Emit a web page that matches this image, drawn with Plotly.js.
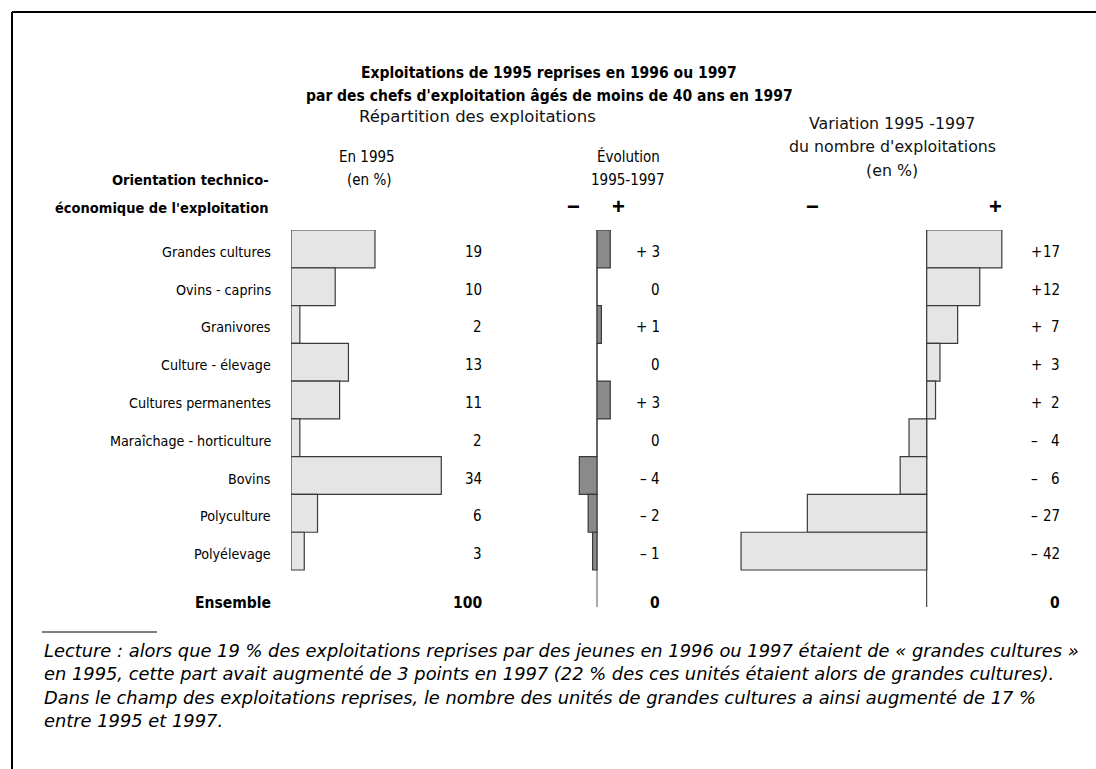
<!DOCTYPE html>
<html>
<head>
<meta charset="utf-8">
<script src="https://cdn.plot.ly/plotly-3.0.1.min.js"></script>
<style>
html,body{margin:0;padding:0;background:#fff;}
#chart{width:1096px;height:769px;}
</style>
</head>
<body>
<div id="chart"></div>
<script>
// ---- data ----
const categories = ["Grandes cultures", "Ovins - caprins", "Granivores", "Culture - élevage",
  "Cultures permanentes", "Maraîchage - horticulture", "Bovins", "Polyculture", "Polyélevage"];
const share1995 = [19, 10, 2, 13, 11, 2, 34, 6, 3];
const evolution9597 = [3, 0, 1, 0, 3, 0, -4, -2, -1];
const variation9597 = [17, 12, 7, 3, 2, -4, -6, -27, -42];
const totalLabel = "Ensemble";
const totalShare = 100;
const totalEvolution = 0;
const totalVariation = 0;

// ---- layout helpers (pixel -> paper) ----
const W = 1096, H = 769;
const px = x => x / W;
const py = y => 1 - y / H;
const NARROW = "DejaVu Sans Condensed, Liberation Sans Narrow, Arial Narrow, sans-serif";
const REG = "DejaVu Sans, Verdana, sans-serif";
const SANS = "Liberation Sans, Arial, sans-serif";
const idx = categories.map((_, i) => i);
const totalRow = 9.29;

const scale = 4.42; // px per unit
const rowTop = 230, pitch = 37.78;
const yMax = 10;
const yBottomPx = rowTop + (yMax + 0.5) * pitch;

function signText(v) {
  if (v > 0) return "+ " + v;
  if (v < 0) return "\u2013 " + (-v);
  return "0";
}

const barLine = {color: "#3a3a3a", width: 1.2};
const traces = [
  {type: "bar", orientation: "h", x: share1995, y: idx, width: 1, xaxis: "x", yaxis: "y",
   marker: {color: "#e5e5e5", line: barLine}, hoverinfo: "skip"},
  {type: "bar", orientation: "h", x: evolution9597, y: idx, width: 1, xaxis: "x2", yaxis: "y",
   marker: {color: "#8a8a8a", line: barLine}, hoverinfo: "skip"},
  {type: "bar", orientation: "h", x: variation9597, y: idx, width: 1, xaxis: "x3", yaxis: "y",
   marker: {color: "#e5e5e5", line: barLine}, hoverinfo: "skip"}
];

const x1Left = 291, x1Range = [0, 40];
const x2Zero = 597, x2Range = [-6, 6];
const x3Zero = 926.7, x3Range = [-44, 20];

const annotations = [];
function txt(text, x, y, opts) {
  opts = opts || {};
  annotations.push(Object.assign({
    text: text, x: px(x), y: py(y), xref: "paper", yref: "paper",
    showarrow: false, xanchor: "center", yanchor: "middle",
    font: {family: NARROW, size: 14.5, color: "#000"}
  }, opts));
}
const ROWSHIFT = -3;
function rowTxt(text, x, row, opts) {
  opts = opts || {};
  annotations.push(Object.assign({
    text: text, x: px(x), y: row, xref: "paper", yref: "y", yshift: ROWSHIFT,
    showarrow: false, xanchor: "right", yanchor: "middle",
    font: {family: NARROW, size: 15, color: "#000"}
  }, opts));
}

// titles
txt("<b>Exploitations de 1995 reprises en 1996 ou 1997</b>", 549, 73, {font: {family: NARROW, size: 15.5, color: "#000"}});
txt("<b>par des chefs d'exploitation âgés de moins de 40 ans en 1997</b>", 549, 96, {font: {family: NARROW, size: 15.5, color: "#000"}});
txt("Répartition des exploitations", 477, 117, {font: {family: REG, size: 16.5, color: "#111"}});
txt("En 1995", 367, 157, {font: {family: NARROW, size: 15, color: "#000"}});
txt("(en %)", 369, 180, {font: {family: NARROW, size: 15, color: "#000"}});
txt("Évolution", 628, 157, {font: {family: NARROW, size: 15, color: "#000"}});
txt("1995-1997", 628, 180, {font: {family: NARROW, size: 15, color: "#000"}});
txt("Variation 1995 -1997", 892, 123, {font: {family: REG, size: 15.8, color: "#111"}});
txt("du nombre d'exploitations", 892, 146, {font: {family: REG, size: 15.8, color: "#111"}});
txt("(en %)", 892, 170, {font: {family: REG, size: 15.8, color: "#111"}});
txt("<b>\u2212</b>", 573, 207, {font: {family: SANS, size: 22, color: "#000"}});
txt("<b>+</b>", 618, 207, {font: {family: SANS, size: 22, color: "#000"}});
txt("<b>\u2212</b>", 812, 207, {font: {family: SANS, size: 22, color: "#000"}});
txt("<b>+</b>", 995, 207, {font: {family: SANS, size: 22, color: "#000"}});
txt("<b>Orientation technico-</b>", 271, 180, {xanchor: "right", font: {family: NARROW, size: 14.5, color: "#000"}});
txt("<b>économique de l'exploitation</b>", 271, 208, {xanchor: "right", font: {family: NARROW, size: 14.5, color: "#000"}});

// rows
categories.forEach((c, i) => {
  rowTxt(c, 273, i, {font: {family: NARROW, size: 14.2, color: "#000"}});
  rowTxt(String(share1995[i]), 484, i);
  rowTxt(signText(evolution9597[i]), 662, i);
  const v = variation9597[i];
  rowTxt(v > 0 ? "+" : (v < 0 ? "\u2013" : ""), 1029, i, {xanchor: "left"});
  rowTxt(String(Math.abs(v)), 1062, i);
});
const boldF = {family: NARROW, size: 15.5, color: "#000"};
rowTxt("<b>" + totalLabel + "</b>", 273, totalRow, {font: boldF});
rowTxt("<b>" + totalShare + "</b>", 484, totalRow, {font: boldF});
rowTxt("<b>" + signText(totalEvolution) + "</b>", 662, totalRow, {font: boldF});
rowTxt("<b>" + signText(totalVariation) + "</b>", 1062, totalRow, {font: boldF});

// footnote
const notes = [
  "Lecture : alors que 19 % des exploitations reprises par des jeunes en 1996 ou 1997 étaient de « grandes cultures »",
  "en 1995, cette part avait augmenté de 3 points en 1997 (22 % des ces unités étaient alors de grandes cultures).",
  "Dans le champ des exploitations reprises, le nombre des unités de grandes cultures a ainsi augmenté de 17 %",
  "entre 1995 et 1997."
];
const noteY = [650, 673, 697, 720];
notes.forEach((n, i) => txt("<i>" + n + "</i>", 42, noteY[i], {xanchor: "left", font: {family: REG, size: 17.85, color: "#000"}}));

const zeroEnd = (607 - rowTop) / pitch - 0.5;
const shapes = [
  {type: "line", xref: "paper", yref: "paper", x0: px(12), x1: 1, y0: py(12), y1: py(12), line: {color: "#000", width: 2}},
  {type: "line", xref: "paper", yref: "paper", x0: px(12), x1: px(12), y0: py(12), y1: 0, line: {color: "#000", width: 2}},
  {type: "line", xref: "paper", yref: "paper", x0: px(42), x1: px(157), y0: py(632), y1: py(632), line: {color: "#000", width: 1}},
  {type: "line", xref: "x2", yref: "y", x0: 0, x1: 0, y0: -0.5, y1: zeroEnd, line: {color: "#555", width: 1}, layer: "below"},
  {type: "line", xref: "x3", yref: "y", x0: 0, x1: 0, y0: -0.5, y1: zeroEnd, line: {color: "#222", width: 1}, layer: "below"}
];

const hidden = {visible: false, fixedrange: true, zeroline: false, showgrid: false};
const layout = {
  width: W, height: H,
  margin: {l: 0, r: 0, t: 0, b: 0},
  paper_bgcolor: "#fff", plot_bgcolor: "rgba(0,0,0,0)",
  showlegend: false,
  bargap: 0,
  xaxis: Object.assign({}, hidden, {range: x1Range, domain: [px(x1Left), px(x1Left + (x1Range[1] - x1Range[0]) * scale)], anchor: "y"}),
  xaxis2: Object.assign({}, hidden, {range: x2Range, domain: [px(x2Zero + x2Range[0] * scale), px(x2Zero + x2Range[1] * scale)], anchor: "y"}),
  xaxis3: Object.assign({}, hidden, {range: x3Range, domain: [px(x3Zero + x3Range[0] * scale), px(x3Zero + x3Range[1] * scale)], anchor: "y"}),
  yaxis: Object.assign({}, hidden, {range: [yMax, -0.5], domain: [py(yBottomPx), py(rowTop)], anchor: "x"}),
  annotations: annotations,
  shapes: shapes
};

Plotly.newPlot("chart", traces, layout, {displayModeBar: false, staticPlot: true});
</script>
</body>
</html>
